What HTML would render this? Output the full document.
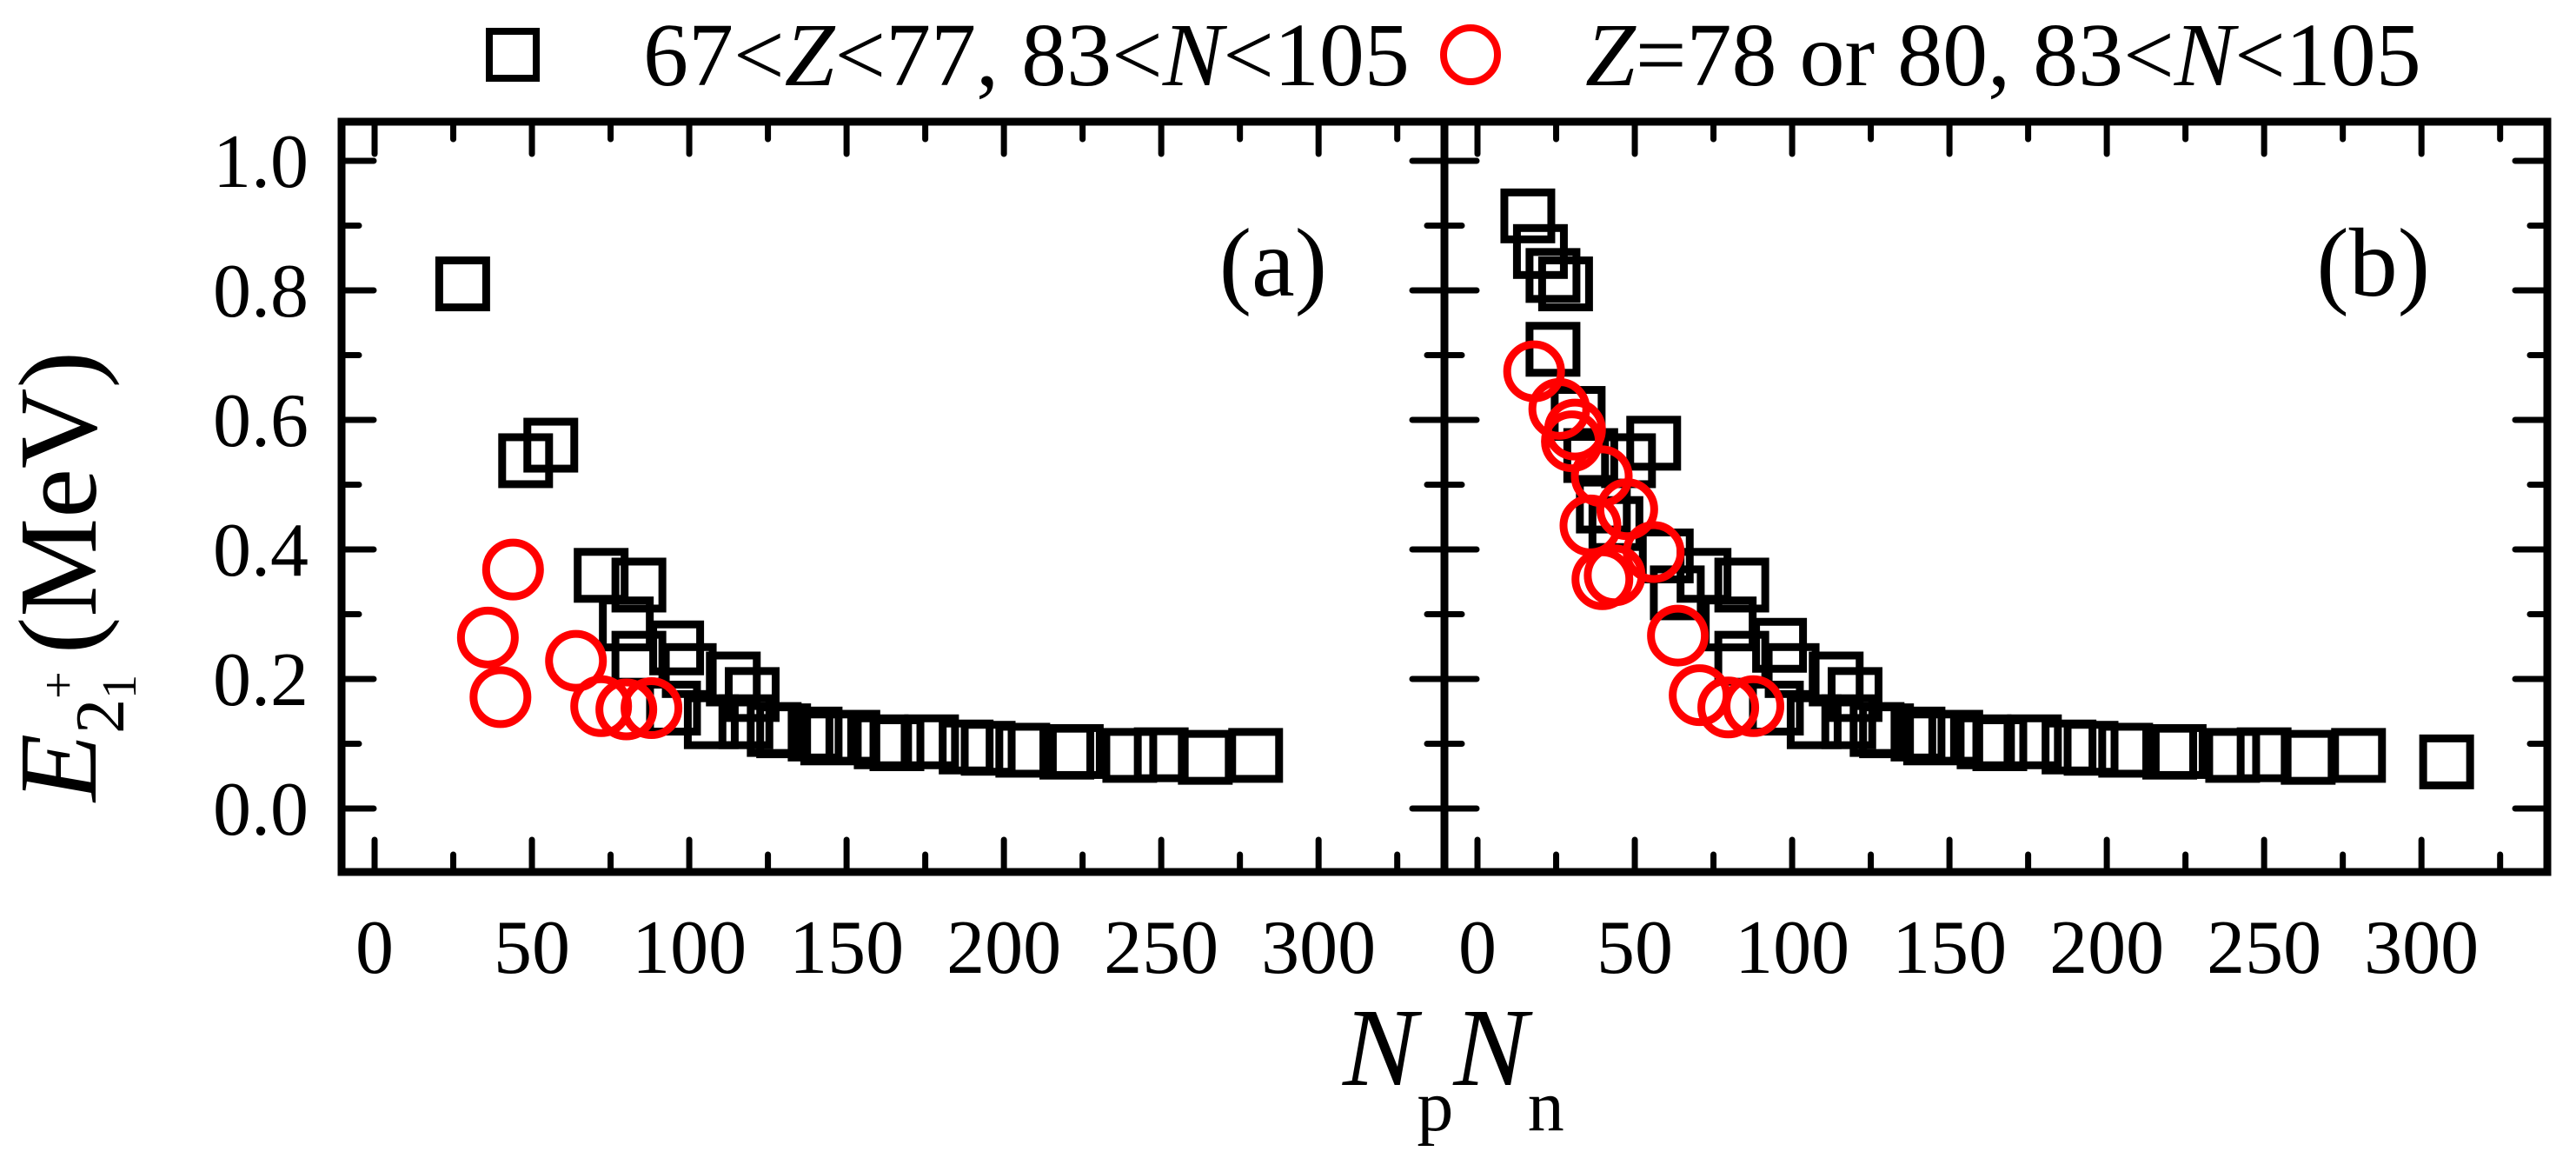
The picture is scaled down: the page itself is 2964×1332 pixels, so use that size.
<!DOCTYPE html>
<html><head><meta charset="utf-8"><style>
html,body{margin:0;padding:0;background:#fff;}
svg{display:block;font-family:"Liberation Serif",serif;}
</style></head><body>
<svg id="chart" width="2964" height="1332" viewBox="0 0 2964 1332" xmlns="http://www.w3.org/2000/svg">
<g id="legend">
  <rect x="563" y="36" width="54" height="54" fill="none" stroke="#000" stroke-width="8"/>
  <text x="740" y="98" font-size="104">67&lt;<tspan font-style="italic">Z</tspan>&lt;77, 83&lt;<tspan font-style="italic">N</tspan>&lt;105</text>
  <circle cx="1692" cy="63" r="31" fill="none" stroke="#f00" stroke-width="8"/>
  <text x="1824" y="98" font-size="104"><tspan font-style="italic">Z</tspan>=78 or 80, 83&lt;<tspan font-style="italic">N</tspan>&lt;105</text>
</g>
<g id="ytitle" transform="translate(110,922) rotate(-90)">
  <text x="0" y="0" font-size="128"><tspan font-style="italic">E</tspan><tspan font-size="80" dy="32">2</tspan><tspan font-size="56" dy="14">1</tspan><tspan font-size="56" dx="-28" dy="-70">+</tspan><tspan dy="24" dx="20">(MeV)</tspan></text>
</g>
<g id="xtitle">
  <text x="1545" y="1248" font-size="128"><tspan font-style="italic">N</tspan><tspan font-size="84" dy="52">p</tspan><tspan font-style="italic" dy="-52">N</tspan><tspan font-size="84" dy="52">n</tspan></text>
</g>
<g id="plots"></g>
</svg>
<script>
const xTicks = [0, 50, 100, 150, 200, 250, 300];
const yTicks = [0.0, 0.2, 0.4, 0.6, 0.8, 1.0];
const yTickLabels = ["0.0", "0.2", "0.4", "0.6", "0.8", "1.0"];
const aBlackX = [28,48,56,72,84,80,96,84,100,114,120,95,107,118,127,130,144,140,152,161,166,177,188,195,206,220,223,240,250,264,280];
const aBlackY = [0.81,0.537,0.561,0.36,0.345,0.285,0.248,0.232,0.213,0.2,0.176,0.155,0.134,0.134,0.122,0.12,0.109,0.115,0.11,0.103,0.1,0.103,0.095,0.093,0.09,0.087,0.088,0.082,0.083,0.079,0.082];
const aRedX = [44,36,40,64,72,80,88];
const aRedY = [0.369,0.264,0.172,0.228,0.158,0.153,0.155];
const bBlackX = [16,20,24,28,24,32,36,40,44,48,56,60,63.5,72,84,80,96,84,100,114,120,95,107,118,127,130,144,140,152,161,166,177,188,195,206,220,223,240,250,264,280,308];
const bBlackY = [0.915,0.86,0.823,0.81,0.709,0.61,0.545,0.467,0.44,0.537,0.564,0.39,0.333,0.36,0.345,0.285,0.252,0.232,0.213,0.2,0.176,0.155,0.134,0.134,0.122,0.12,0.109,0.115,0.11,0.103,0.1,0.103,0.095,0.093,0.09,0.087,0.088,0.082,0.083,0.079,0.082,0.072];
const bRedX = [18,26,31,30,39.5,47.6,35.9,56,39.7,43.6,63.7,70.6,79.7,87.7];
const bRedY = [0.675,0.617,0.585,0.567,0.513,0.462,0.437,0.396,0.354,0.36,0.267,0.175,0.156,0.158];

const NS = "http://www.w3.org/2000/svg";
const root = document.getElementById('plots');
const TOP = 140, BOT = 1003;
function mk(tag, attrs, parent){ const e = document.createElementNS(NS, tag); for (const k in attrs) e.setAttribute(k, attrs[k]); parent.appendChild(e); return e; }

function panel(id, left, right, bx, by, rx, ry, label, showY){
  const xmin = -10.5, xmax = 340;
  const X = v => left + (v - xmin) / (xmax - xmin) * (right - left);
  const Y = v => 930 - v * 745;
  const g = mk('g', {}, root);
  
  
  const frame = mk('rect', {x:left, y:TOP, width:right-left, height:BOT-TOP, fill:'none', stroke:'#000', 'stroke-width':9}, g);
  
  
  const tg = mk('g', {stroke:'#000', 'stroke-width':7, 'stroke-linecap':'round'}, g);
  
  
  for (let v = 0; v <= 325; v += 25) {
    const major = v % 50 === 0, L = major ? 37 : 20, x = X(v);
    mk('line', {x1:x, y1:BOT, x2:x, y2:BOT-L}, tg);
    mk('line', {x1:x, y1:TOP, x2:x, y2:TOP+L}, tg);
  }
  for (let i = 0; i <= 10; i++) {
    const v = i / 10, major = i % 2 === 0, L = major ? 37 : 20, y = Y(v);
    mk('line', {x1:left, y1:y, x2:left+L, y2:y}, tg);
    mk('line', {x1:right, y1:y, x2:right-L, y2:y}, tg);
  }
  xTicks.forEach(v => {
    const t = mk('text', {x:X(v), y:1119, 'font-size':88, 'text-anchor':'middle'}, g);
    
    
    t.textContent = String(v);
  });
  if (showY) yTicks.forEach((v, i) => {
    const t = mk('text', {x:355, y:Y(v)+30, 'font-size':88, 'text-anchor':'end'}, g);
    
    
    t.textContent = yTickLabels[i];
  });
  bx.forEach((v, i) => {
    const r = mk('rect', {x:X(v)-27, y:Y(by[i])-27, width:54, height:54, fill:'none', stroke:'#000', 'stroke-width':9}, g);
    
    
  });
  rx.forEach((v, i) => {
    const c = mk('circle', {cx:X(v), cy:Y(ry[i]), r:31, fill:'none', stroke:'#f00', 'stroke-width':9}, g);
    
    
  });
  const lt = mk('text', {x:right-135, y:340, 'font-size':112, 'text-anchor':'end'}, g);
  
  
  lt.textContent = label;
}
panel('a', 393, 1662, aBlackX, aBlackY, aRedX, aRedY, '(a)', true);
panel('b', 1662, 2931, bBlackX, bBlackY, bRedX, bRedY, '(b)', false);
</script>
</body></html>
